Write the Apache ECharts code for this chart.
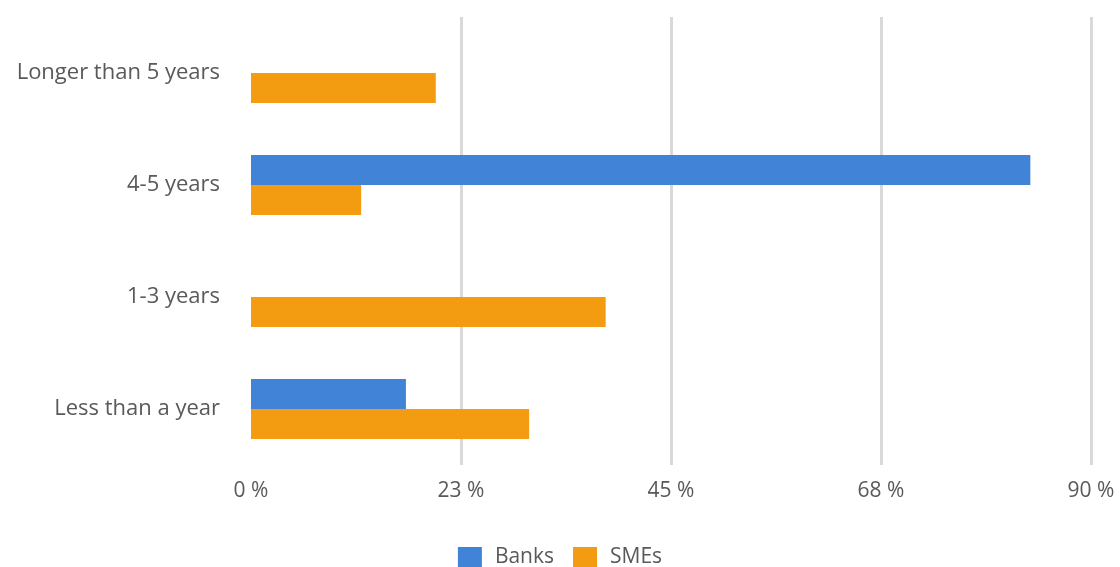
<!DOCTYPE html>
<html><head><meta charset="utf-8">
<script src="https://cdn.jsdelivr.net/npm/echarts@6/dist/echarts.min.js"></script>
<style>html,body{margin:0;padding:0;background:#fff}#c{width:1120px;height:567px}</style>
</head><body><div id="c"></div>
<script>
const categories = ['Less than a year', '1-3 years', '4-5 years', 'Longer than 5 years'];
const banks = [16.6, 0, 83.5, 0];
const smes = [29.8, 38.0, 11.8, 19.8];
const seriesNames = ['Banks', 'SMEs'];
const axisMax = 90;
const axisInterval = 22.5;

const font = 'Open Sans';
const textColor = '#595959';
const chart = echarts.init(document.getElementById('c'));
chart.setOption({
  animation: false,
  textStyle: { fontFamily: font },
  grid: { left: 251, right: 29, top: 17, bottom: 102, containLabel: false },
  legend: {
    data: seriesNames, top: 547, left: 'center', padding: 0, itemWidth: 24, itemHeight: 21, itemGap: 19,
    textStyle: { fontFamily: font, fontSize: 21, color: textColor, padding: [0, 0, 0, 8] },
    icon: 'rect'
  },
  xAxis: {
    type: 'value', min: 0, max: axisMax, interval: axisInterval,
    axisLine: { show: false }, axisTick: { show: false },
    splitLine: { show: true, lineStyle: { color: ['rgba(0,0,0,0)', '#d9d9d9', '#d9d9d9', '#d9d9d9', '#d9d9d9'], width: 3 } },
    axisLabel: { fontFamily: font, fontSize: 21, color: textColor, margin: 16,
      formatter: v => Math.round(v) + ' %' }
  },
  yAxis: {
    type: 'category', data: categories,
    axisLine: { show: false }, axisTick: { show: false },
    axisLabel: { fontFamily: font, fontSize: 22, color: textColor, margin: 31 }
  },
  series: [
    { name: seriesNames[0], type: 'bar', data: banks, barWidth: 30, barGap: '0%', itemStyle: { color: '#4184D7' } },
    { name: seriesNames[1], type: 'bar', data: smes, barWidth: 30, barGap: '0%', itemStyle: { color: '#F39C12' } }
  ]
});
</script></body></html>
